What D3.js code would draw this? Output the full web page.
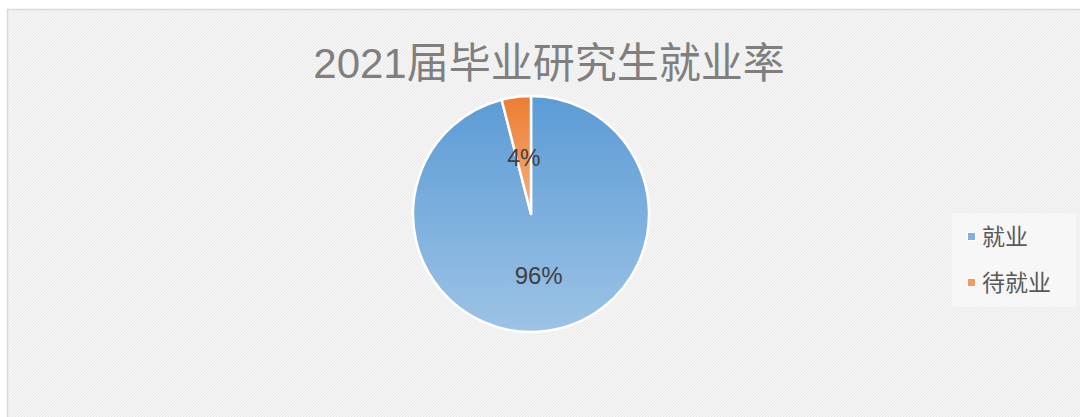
<!DOCTYPE html>
<html lang="zh">
<head>
  <meta charset="UTF-8">
  <title>2021届毕业研究生就业率</title>
  <script src="https://d3js.org/d3.v7.min.js"></script>
  <style>
    body {
      margin: 0;
      background: #ffffff;
      font-family: "Liberation Sans", Arial, "Noto Sans CJK SC", sans-serif;
    }
    svg { display: block; }
  </style>
</head>
<body>
  <div id="chart"></div>

  <script>
    // data
    const categories = ["就业", "待就业"];
    const values = [96, 4];
    const labels = ["96%", "4%"];
    const title = "2021届毕业研究生就业率";

    const width = 1080;
    const height = 417;
    const cx = 531, cy = 214, r = 118;

    const svg = d3.select("#chart")
      .append("svg")
      .attr("width", width)
      .attr("height", height);

    const defs = svg.append("defs");

    // textured background
    const pat = defs.append("pattern")
      .attr("id", "bg")
      .attr("width", 3)
      .attr("height", 3)
      .attr("patternUnits", "userSpaceOnUse");
    pat.append("rect").attr("width", 3).attr("height", 3).attr("fill", "#f5f5f5");
    pat.append("path")
      .attr("d", "M0,3 L3,0 M-1,1 L1,-1 M2,4 L4,2")
      .attr("stroke", "#e8e8e8")
      .attr("stroke-width", 0.9);

    const gradStops = [
      ["#5b9bd5", "#9dc3e6"],
      ["#ed7d31", "#f4b183"]
    ];
    gradStops.forEach((c, i) => {
      const g = defs.append("linearGradient")
        .attr("id", "grad" + i)
        .attr("x1", 0).attr("y1", 0).attr("x2", 0).attr("y2", 1);
      g.append("stop").attr("offset", "0%").attr("stop-color", c[0]);
      g.append("stop").attr("offset", "100%").attr("stop-color", c[1]);
    });

    svg.append("rect")
      .attr("x", 7.5).attr("y", 9.5)
      .attr("width", width).attr("height", height)
      .attr("fill", "url(#bg)")
      .attr("stroke", "#d9d9d9")
      .attr("stroke-width", 1.5);

    svg.append("text")
      .attr("x", 549)
      .attr("y", 78)
      .attr("text-anchor", "middle")
      .attr("fill", "#7f7f7f")
      .attr("font-size", 42)
      .text(title);

    const pie = d3.pie().sort(null).value(d => d);
    const arcs = pie(values);
    const arc = d3.arc().innerRadius(0).outerRadius(r);

    const g = svg.append("g").attr("transform", `translate(${cx},${cy})`);

    g.selectAll("path")
      .data(arcs)
      .join("path")
        .attr("d", arc)
        .attr("fill", (d, i) => `url(#grad${i})`)
        .attr("stroke", "#ffffff")
        .attr("stroke-width", 2.5)
        .attr("stroke-linejoin", "round");

    const labelPos = [
      d3.arc().innerRadius(r * 0.52).outerRadius(r * 0.52),
      d3.arc().innerRadius(r * 0.48).outerRadius(r * 0.48)
    ];
    g.selectAll("text")
      .data(arcs)
      .join("text")
        .attr("transform", (d, i) => `translate(${labelPos[i].centroid(d)})`)
        .attr("text-anchor", "middle")
        .attr("dy", "0.36em")
        .attr("fill", "#404040")
        .attr("font-size", (d, i) => i === 0 ? 24 : 23)
        .text((d, i) => labels[i]);

    // legend
    const legend = svg.append("g").attr("transform", "translate(952,213)");
    legend.append("rect")
      .attr("width", 124).attr("height", 94)
      .attr("fill", "#fafafa")
      .attr("opacity", 0.7);

    const legendY = d3.scalePoint().domain(categories).range([24, 70]);
    const item = legend.selectAll("g.item")
      .data(categories)
      .join("g")
        .attr("class", "item")
        .attr("transform", d => `translate(15,${legendY(d)})`);
    item.append("rect")
      .attr("x", 0).attr("y", -5)
      .attr("width", 9).attr("height", 9)
      .attr("fill", "#ffffff");
    item.append("rect")
      .attr("x", 1).attr("y", -4)
      .attr("width", 7).attr("height", 7)
      .attr("fill", (d, i) => i === 0 ? "#7eb0e0" : "#f29a60");
    item.append("text")
      .attr("x", 15)
      .attr("dy", "0.36em")
      .attr("fill", "#595959")
      .attr("font-size", 23)
      .text(d => d);
  </script>
</body>
</html>
